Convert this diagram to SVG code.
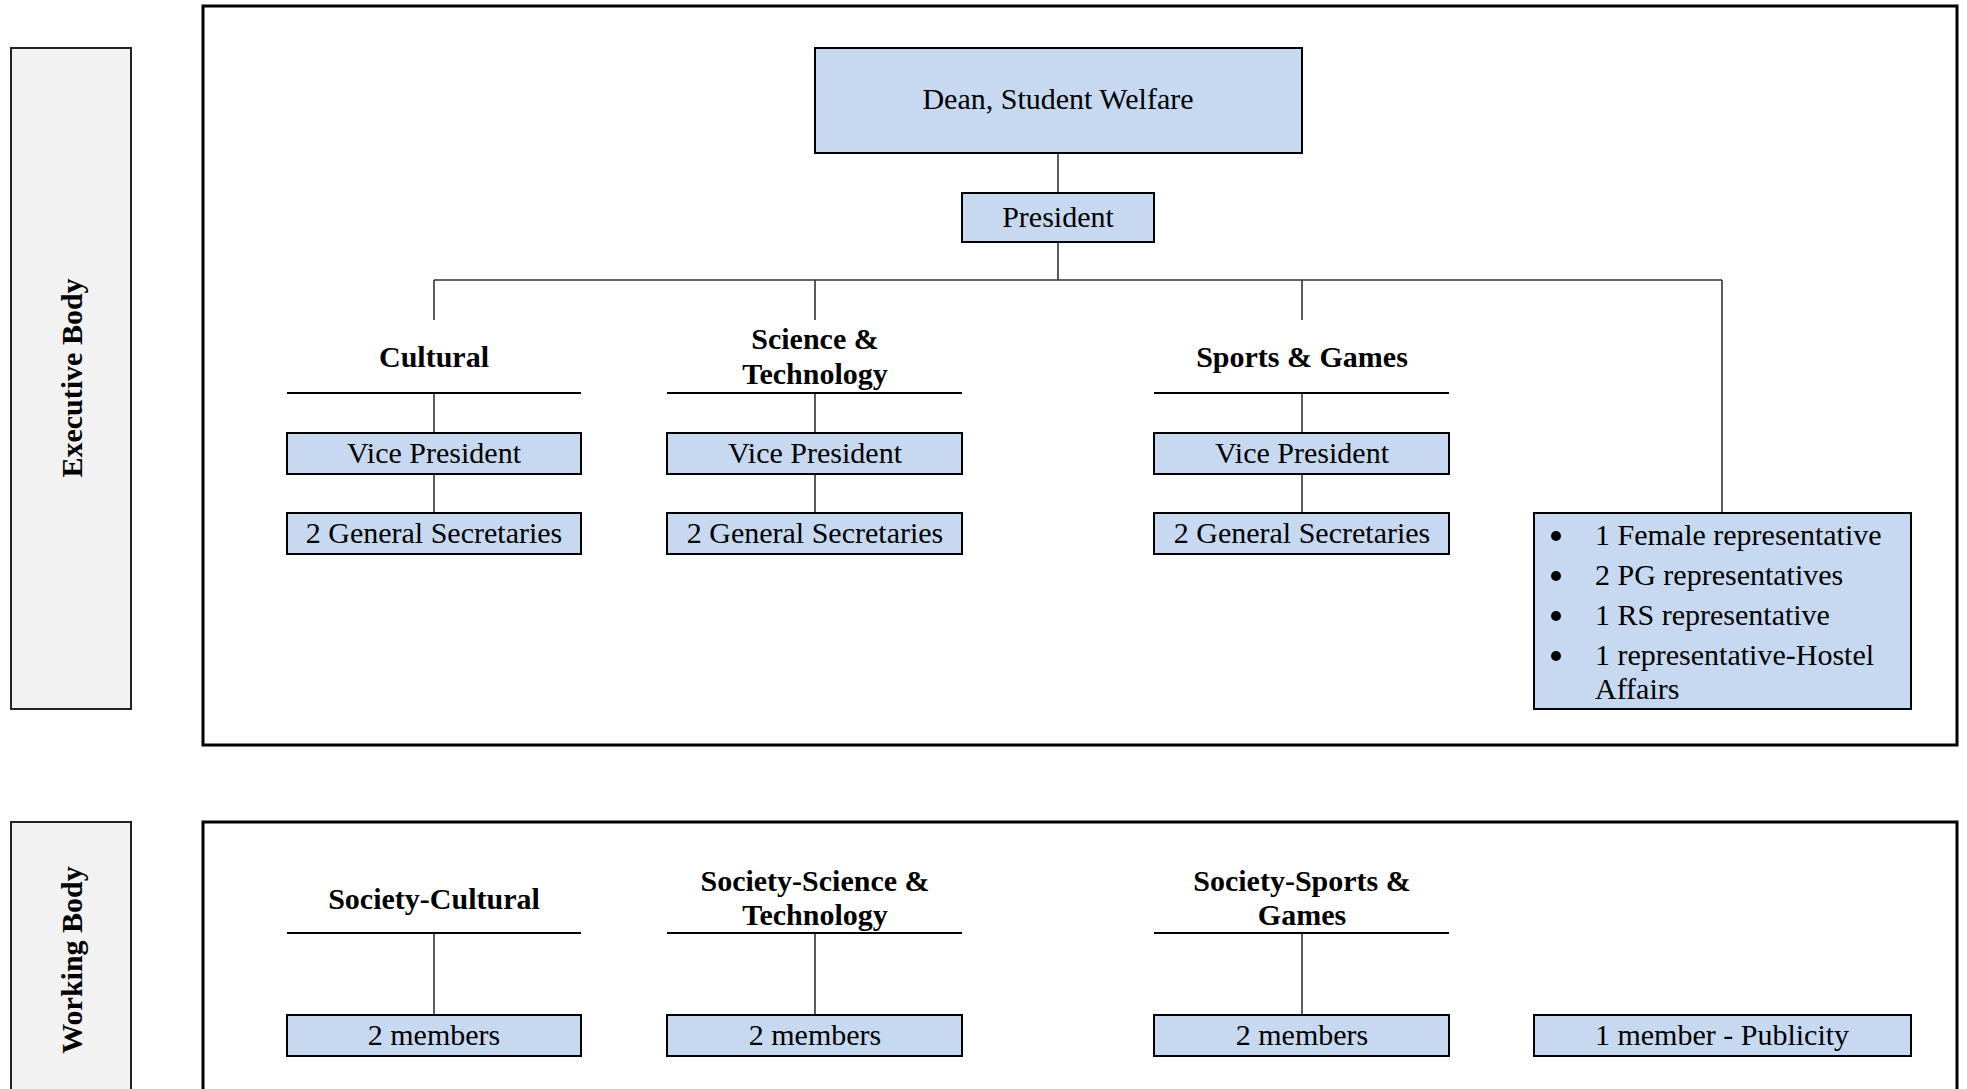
<svg xmlns="http://www.w3.org/2000/svg" width="1967" height="1089" viewBox="0 0 1967 1089">
<style>
.bg{fill:#ffffff}
.frame{fill:none;stroke:#000;stroke-width:3}
.lab{fill:#f2f2f2;stroke:#222;stroke-width:2}
.box{fill:#c6d9f1;stroke:#000;stroke-width:2}
.ul{stroke:#000;stroke-width:1.8}
.dot{fill:#000}
.con line{stroke:#333;stroke-width:1.6}
text{font-family:"Liberation Serif","Times New Roman",serif;font-size:30px;fill:#000}
.c{text-anchor:middle}
.b{font-weight:bold}
</style>
<rect class="bg" x="0" y="0" width="1967" height="1089"/>

<g id="exec-label">
<rect class="lab" x="11" y="48" width="120" height="661"/>
<text class="c b" transform="translate(82,378) rotate(-90)">Executive Body</text>
</g>
<g id="exec-frame"><rect class="frame" x="203" y="6" width="1754" height="739"/></g>

<g id="work-label">
<rect class="lab" x="11" y="822" width="120" height="290"/>
<text class="c b" transform="translate(82,960) rotate(-90)">Working Body</text>
</g>
<g id="work-frame"><rect class="frame" x="203" y="822" width="1754" height="290"/></g>

<g class="con" id="connectors">
<line x1="1058" y1="153" x2="1058" y2="193"/>
<line x1="1058" y1="242" x2="1058" y2="280"/>
<line x1="434" y1="280" x2="1722" y2="280"/>
<line x1="434" y1="280" x2="434" y2="320"/>
<line x1="815" y1="280" x2="815" y2="320"/>
<line x1="1302" y1="280" x2="1302" y2="320"/>
<line x1="1722" y1="280" x2="1722" y2="513"/>
<line x1="434" y1="393" x2="434" y2="433"/>
<line x1="815" y1="393" x2="815" y2="433"/>
<line x1="1302" y1="393" x2="1302" y2="433"/>
<line x1="434" y1="474" x2="434" y2="513"/>
<line x1="815" y1="474" x2="815" y2="513"/>
<line x1="1302" y1="474" x2="1302" y2="513"/>
<line x1="434" y1="933" x2="434" y2="1015"/>
<line x1="815" y1="933" x2="815" y2="1015"/>
<line x1="1302" y1="933" x2="1302" y2="1015"/>
</g>

<g id="dean">
<rect class="box" x="815" y="48" width="487" height="105"/>
<text class="c" x="1058" y="109">Dean, Student Welfare</text>
</g>
<g id="president">
<rect class="box" x="962" y="193" width="192" height="49"/>
<text class="c" x="1058" y="227">President</text>
</g>

<g id="hdr-cultural">
<text class="c b" x="434" y="367">Cultural</text>
<line class="ul" x1="287" y1="393" x2="581" y2="393"/>
</g>
<g id="hdr-scitech">
<text class="c b" x="815" y="349">Science &amp;</text>
<text class="c b" x="815" y="384">Technology</text>
<line class="ul" x1="667" y1="393" x2="962" y2="393"/>
</g>
<g id="hdr-sports">
<text class="c b" x="1302" y="367">Sports &amp; Games</text>
<line class="ul" x1="1154" y1="393" x2="1449" y2="393"/>
</g>

<g id="vp-cultural"><rect class="box" x="287" y="433" width="294" height="41"/><text class="c" x="434" y="463">Vice President</text></g>
<g id="vp-scitech"><rect class="box" x="667" y="433" width="295" height="41"/><text class="c" x="815" y="463">Vice President</text></g>
<g id="vp-sports"><rect class="box" x="1154" y="433" width="295" height="41"/><text class="c" x="1302" y="463">Vice President</text></g>

<g id="gs-cultural"><rect class="box" x="287" y="513" width="294" height="41"/><text class="c" x="434" y="543">2 General Secretaries</text></g>
<g id="gs-scitech"><rect class="box" x="667" y="513" width="295" height="41"/><text class="c" x="815" y="543">2 General Secretaries</text></g>
<g id="gs-sports"><rect class="box" x="1154" y="513" width="295" height="41"/><text class="c" x="1302" y="543">2 General Secretaries</text></g>

<g id="reps">
<rect class="box" x="1534" y="513" width="377" height="196"/>
<circle class="dot" cx="1556" cy="536" r="5"/><text x="1595" y="545">1 Female representative</text>
<circle class="dot" cx="1556" cy="576" r="5"/><text x="1595" y="585">2 PG representatives</text>
<circle class="dot" cx="1556" cy="616" r="5"/><text x="1595" y="625">1 RS representative</text>
<circle class="dot" cx="1556" cy="656" r="5"/><text x="1595" y="665">1 representative-Hostel</text>
<text x="1595" y="699">Affairs</text>
</g>

<g id="hdr-soc-cultural">
<text class="c b" x="434" y="909">Society-Cultural</text>
<line class="ul" x1="287" y1="933" x2="581" y2="933"/>
</g>
<g id="hdr-soc-scitech">
<text class="c b" x="815" y="891">Society-Science &amp;</text>
<text class="c b" x="815" y="925">Technology</text>
<line class="ul" x1="667" y1="933" x2="962" y2="933"/>
</g>
<g id="hdr-soc-sports">
<text class="c b" x="1302" y="891">Society-Sports &amp;</text>
<text class="c b" x="1302" y="925">Games</text>
<line class="ul" x1="1154" y1="933" x2="1449" y2="933"/>
</g>

<g id="mem-cultural"><rect class="box" x="287" y="1015" width="294" height="41"/><text class="c" x="434" y="1045">2 members</text></g>
<g id="mem-scitech"><rect class="box" x="667" y="1015" width="295" height="41"/><text class="c" x="815" y="1045">2 members</text></g>
<g id="mem-sports"><rect class="box" x="1154" y="1015" width="295" height="41"/><text class="c" x="1302" y="1045">2 members</text></g>
<g id="mem-publicity"><rect class="box" x="1534" y="1015" width="377" height="41"/><text class="c" x="1722" y="1045">1 member - Publicity</text></g>
</svg>
